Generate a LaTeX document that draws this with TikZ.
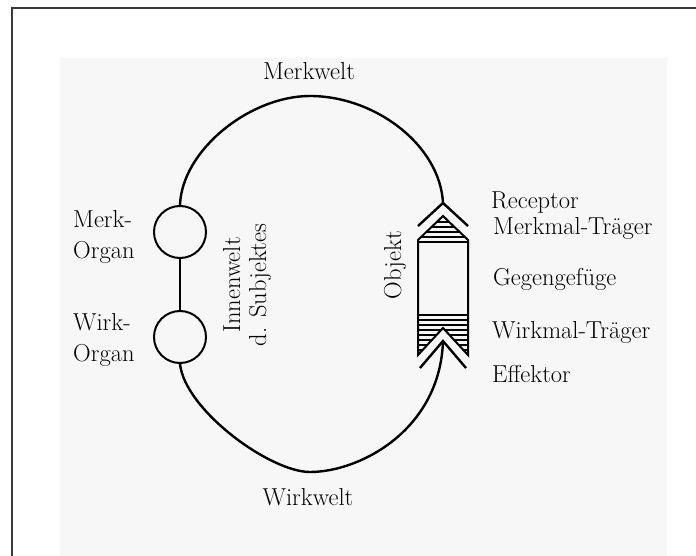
\documentclass[tikz,border=0pt]{standalone}
\usepackage{fontspec}
\usepackage{tikz}
\usetikzlibrary{
  arrows.meta,
  positioning,
  calc
}
\definecolor{paper}{RGB}{247,247,247}
\definecolor{frame}{RGB}{58,58,58}

\begin{document}
\begin{tikzpicture}[
  x=1pt, y=-1pt,
  every node/.style={font=\fontsize{24.5}{31}\selectfont, inner sep=0pt},
  organ/.style={draw, circle, line width=2pt, minimum size=52pt},
  loopline/.style={line width=2.4pt},
  chev/.style={line width=2.4pt},
  obj/.style={line width=2pt, line join=miter},
  hatch/.style={line width=1.3pt},
  rlabel/.style={anchor=base west}
]
\useasboundingbox (0,0) rectangle (696,556);

% ── Paper ──
\fill[paper] (60,58) rectangle (667,556);
\draw[frame, line width=2.5pt] (696,8) -- (12,8) -- (12,556);

% ── Organs ──
\node[organ] (merk) at (180,232) {};
\node[organ] (wirk) at (180,337) {};
\draw[line width=2pt] (merk) -- (wirk);

\node[anchor=north west, align=left] (merklbl) at (73,210) {Merk-\\Organ};
\node[anchor=north west, align=left] (wirklbl) at (73,313) {Wirk-\\Organ};

% ── Objekt ──
\coordinate (rec) at (443,203);
\coordinate (eff) at (443,341);
\coordinate (mtop) at (310,96);
\coordinate (wbot) at (310,472);

\draw[chev] (418,226) -- (rec) -- (468,226);
\draw[chev] (420,368) -- (eff) -- (466,368);

\begin{scope}
  \clip (418,240) -- (443,216) -- (468,240) -- (468,244) -- (418,244) -- cycle;
  \foreach \y in {222,227,...,242}
    \draw[hatch] (418,\y) -- (468,\y);
\end{scope}
\begin{scope}
  \clip (418,313) -- (468,313) -- (468,355) -- (443,328) -- (418,355) -- cycle;
  \foreach \y in {315,320,...,350}
    \draw[hatch] (418,\y) -- (468,\y);
\end{scope}
\draw[obj] (418,240) -- (443,216) -- (468,240) -- (468,355)
  -- (443,328) -- (418,355) -- cycle;

% ── Merkwelt / Wirkwelt ──
\draw[loopline] (merk.north) .. controls (182,150) and (250,96) .. (mtop)
  .. controls (375,96) and (440,145) .. (rec);
\draw[loopline] (wirk.south) .. controls (185,410) and (270,472) .. (wbot)
  .. controls (360,472) and (440,430) .. (eff);

\node[anchor=base] (merkwelt) at (309,80) {Merkwelt};
\node[anchor=base] (wirkwelt) at (308,505) {Wirkwelt};

% ── Inside labels ──
\node[rotate=90, align=center, font=\fontsize{24.5}{26}\selectfont]
  (innen) at (247,285) {Innenwelt\\d. Subjektes};
\node[rotate=90] (objekt) at (395,265) {Objekt};

% ── Right labels ──
\node[rlabel] (receptor) at (491,208) {Receptor};
\node[rlabel] (merkmal)  at (493,235) {Merkmal-Träger};
\node[rlabel] (gegen)    at (493,285) {Gegengefüge};
\node[rlabel] (wirkmal)  at (492,338) {Wirkmal-Träger};
\node[rlabel] (effektor) at (492,382) {Effektor};

\end{tikzpicture}
\end{document}
